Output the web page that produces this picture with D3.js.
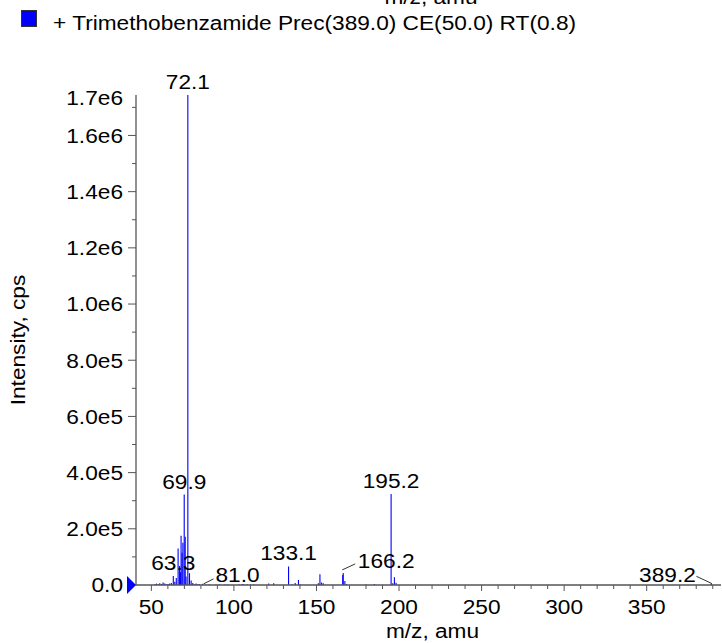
<!DOCTYPE html>
<html>
<head>
<meta charset="utf-8">
<script src="https://cdn.jsdelivr.net/npm/d3@7"></script>
<style>
  body { margin: 0; background: #fff; }
  text { font-family: "Liberation Sans", Arial, sans-serif; fill: #000; font-size: 21px; }
</style>
</head>
<body>
<svg id="chart" width="722" height="643"></svg>
<script>
// spectrum: m/z and intensity (cps)
const mzValues = [52.1, 53.1, 54.0, 55.1, 56.1, 57.1, 58.1, 59.0, 60.1, 61.0, 62.1, 63.3, 64.2, 65.1,
  66.2, 67.1, 67.6, 68.0, 68.6, 69.1, 69.9, 70.5, 71.0, 72.1, 73.1, 74.1, 75.1, 76.0, 77.1, 78.0,
  79.1, 81.0, 83.0, 85.1, 89.1, 91.1, 94.6, 96.4, 103.1, 105.1, 106.1, 108.1, 110.1, 112.1, 121.1,
  124.1, 133.1, 135.1, 137.1, 139.1, 140.1, 151.1, 152.1, 153.1, 154.1, 165.9, 166.2, 167.2, 168.2,
  180.1, 185.1, 195.2, 196.2, 197.2, 198.2, 389.2];
const intensities = [3000, 5000, 3000, 6000, 4000, 9000, 5000, 3000, 4000, 5000, 7000, 32000, 12000, 25000,
  130000, 68000, 45000, 175000, 115000, 150000, 322000, 172000, 30000, 1744000, 42000, 16000, 7000, 3000, 5000, 3000,
  4000, 4000, 2000, 3000, 2000, 3000, 2000, 2000, 2000, 4000, 3000, 3000, 2000, 2000, 5000,
  6000, 66000, 3000, 7000, 18000, 3000, 6000, 38000, 9000, 6000, 36000, 43000, 14000, 3000,
  2000, 4000, 324000, 6000, 28000, 8000, 6000];

const peakLabels = [72.1, 69.9, 195.2, 133.1, 63.3, 81.0, 166.2, 389.2];

const xTickValues = [50, 100, 150, 200, 250, 300, 350];
const xTickLabels = ["50", "100", "150", "200", "250", "300", "350"];
const xMinorValues = d3.range(50, 391, 10);
const yTickValues = [0, 200000, 400000, 600000, 800000, 1000000, 1200000, 1400000, 1600000];
const yTickLabels = ["0.0", "2.0e5", "4.0e5", "6.0e5", "8.0e5", "1.0e6", "1.2e6", "1.4e6", "1.6e6"];
const yMinorValues = [100000, 300000, 500000, 700000, 900000, 1100000, 1300000, 1500000, 1700000];
const xDomain = [40.7, 395];
const yDomain = [0, 1744000];
const yTopLabel = "1.7e6";

const legendText = "+ Trimethobenzamide Prec(389.0) CE(50.0) RT(0.8)";
const xTitle = "m/z, amu";
const yTitle = "Intensity, cps";

const margin = { top: 95, right: 1, bottom: 58, left: 136 },
    width = 722 - margin.left - margin.right,
    height = 643 - margin.top - margin.bottom;

const svg = d3.select("#chart");
const g = svg.append("g")
    .attr("transform", "translate(" + margin.left + "," + margin.top + ")");

const x = d3.scaleLinear().domain(xDomain).range([0, width]);
const y = d3.scaleLinear().domain(yDomain).range([height, 0]);

const axisColor = "#555";
const widen = 1.08; // the original font is a bit wider than Liberation Sans

// put a text at (px, py), slightly widened
function place(sel, px, py, rot) {
  return sel.attr("transform", "translate(" + px + "," + py + ")" +
    (rot ? " rotate(" + rot + ")" : "") + " scale(" + widen + ",1)");
}

// sticks
const peaks = mzValues.map((m, i) => ({ mz: m, v: intensities[i] }));
g.append("g")
  .selectAll("line")
  .data(peaks)
  .enter()
  .append("line")
  .attr("x1", d => x(d.mz)).attr("x2", d => x(d.mz))
  .attr("y1", y(0)).attr("y2", d => y(d.v))
  .attr("stroke", "#0000ff")
  .attr("stroke-width", 1.1);

// x axis
const xAxis = g.append("g").attr("transform", "translate(0," + height + ")");
xAxis.append("line").attr("x1", 0).attr("x2", width).attr("stroke", axisColor).attr("stroke-width", 1.3);
xAxis.selectAll(".minor").data(xMinorValues).enter().append("line")
  .attr("x1", d => x(d)).attr("x2", d => x(d))
  .attr("y1", 0).attr("y2", d => d % 50 === 0 ? 6 : 4)
  .attr("stroke", axisColor);
xAxis.selectAll(".lab").data(xTickValues).enter().append("text")
  .each(function(d) { place(d3.select(this), x(d), 29); })
  .attr("text-anchor", "middle")
  .text((d, i) => xTickLabels[i]);

// y axis
const yAxis = g.append("g");
yAxis.append("line").attr("y1", 0).attr("y2", height).attr("stroke", axisColor).attr("stroke-width", 1.3);
yAxis.selectAll(".maj").data(yTickValues).enter().append("line")
  .attr("x1", -8).attr("x2", 0)
  .attr("y1", d => y(d)).attr("y2", d => y(d))
  .attr("stroke", axisColor);
yAxis.selectAll(".min").data(yMinorValues).enter().append("line")
  .attr("x1", -4).attr("x2", 0)
  .attr("y1", d => y(d)).attr("y2", d => y(d))
  .attr("stroke", axisColor);
yAxis.selectAll(".lab").data(yTickValues).enter().append("text")
  .each(function(d) { place(d3.select(this), -13, y(d)); })
  .attr("dy", "0.35em")
  .attr("text-anchor", "end")
  .text((d, i) => yTickLabels[i]);
place(yAxis.append("text"), -13, y(yDomain[1]) + 3)
  .attr("dy", "0.35em")
  .attr("text-anchor", "end")
  .text(yTopLabel);

// blue marker on the baseline
g.append("path")
  .attr("d", "M0," + y(0) + "l-9,-9v18z")
  .attr("fill", "#0000ff");

// peak labels, a few pushed aside with a leader line
const shifted = {
  "81.0": { dx: 35, dy: -2, line: [1, 0, 11, -5] },
  "166.2": { dx: 43, dy: -5, line: [-1, -3, 12, -9] },
  "389.2": { dx: -44, dy: -1, line: [0, 0, -15, -7] }
};
const labelled = peakLabels.map(m => peaks.find(p => p.mz === m));
labelled.forEach(p => {
  const key = p.mz.toFixed(1);
  const px = x(p.mz), py = y(p.v);
  const s = shifted[key];
  if (s) {
    g.append("line")
      .attr("x1", px + s.line[0]).attr("y1", py + s.line[1])
      .attr("x2", px + s.line[2]).attr("y2", py + s.line[3])
      .attr("stroke", "#000").attr("stroke-width", 0.8);
  }
  place(g.append("text"), px + (s ? s.dx : 0), py + (s ? s.dy : -6))
    .attr("text-anchor", "middle")
    .text(key);
});

// axis titles (the top one is cut by the picture edge, as in the original)
place(svg.append("text"), margin.left + width / 2 + 4, 638)
  .attr("text-anchor", "middle")
  .text(xTitle);
place(svg.append("text"), 431, 4)
  .attr("text-anchor", "middle")
  .text(xTitle);
place(svg.append("text"), 25, margin.top + height / 2, -90)
  .attr("text-anchor", "middle")
  .text(yTitle);

// legend
svg.append("rect")
  .attr("x", 21.5).attr("y", 10.5).attr("width", 15).attr("height", 16)
  .attr("fill", "#0000ff").attr("stroke", "#333");
place(svg.append("text"), 53, 30)
  .text(legendText);
</script>
</body>
</html>
